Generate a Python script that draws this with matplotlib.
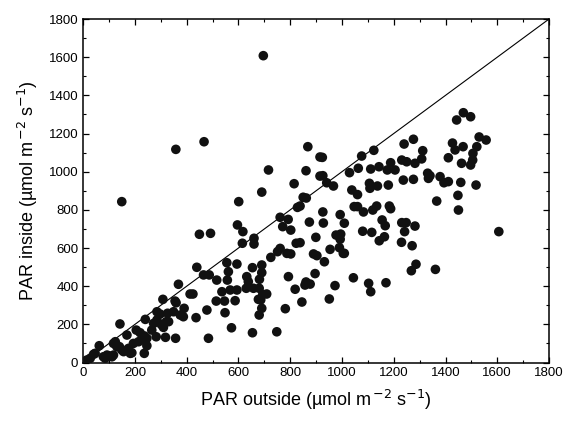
import numpy as np
import matplotlib.pyplot as plt

plt.rcParams['font.family'] = ['Liberation Sans', 'DejaVu Sans']
plt.rcParams['mathtext.default'] = 'regular'

# PAR outside / inside
par_out = [696, 358, 467, 868, 716, 861, 815, 690, 915, 915, 149, 1606,
           1469, 1497, 1443, 1530, 1557, 1427, 1240, 1276, 1312, 1123, 1076, 924,
           1468, 1437, 1411, 1521, 1506, 1505, 1497, 1462, 1231, 1250, 1282, 1308,
           1188, 1175, 1205, 1143, 1111, 1063, 1029, 926, 941, 967, 1331, 1340,
           1334, 1379, 1394, 1411, 1459, 1518, 1237, 1276, 1106, 1137, 1179, 1038,
           1108, 1060, 850, 862, 838, 1047, 1060, 1083, 1119, 1134, 1183, 1188,
           1366, 1448, 1450, 926, 874, 928, 993, 1009, 1155, 1167, 1231, 1248,
           1282, 1242, 1080, 1115, 977, 995, 993, 899, 838, 1144, 1164, 1230,
           1271, 954, 990, 1009, 890, 903, 932, 1286, 1268, 1361, 896, 861,
           877, 857, 1044, 973, 1103, 1111, 1170, 951, 845, 601, 828, 761,
           792, 771, 802, 596, 617, 615, 660, 660, 449, 492, 823, 802,
           761, 751, 725, 787, 793, 819, 781, 748, 654, 573, 484, 548,
           694, 686, 680, 690, 709, 654, 690, 690, 632, 638, 658, 680,
           630, 681, 594, 555, 561, 465, 487, 516, 557, 568, 536, 594,
           677, 587, 546, 514, 439, 424, 368, 355, 390, 387, 349, 436,
           478, 357, 318, 308, 359, 375, 413, 321, 310, 302, 326, 297,
           285, 285, 330, 272, 265, 282, 240, 237, 246, 236, 246, 227,
           220, 205, 214, 194, 188, 182, 175, 169, 142, 140, 156, 149,
           130, 124, 117, 117, 99, 111, 92, 62, 46, 40, 27, 14,
           85, 78, 1005]
par_in = [1608, 1117, 1157, 1131, 1009, 1005, 937, 893, 1077, 977, 843, 686,
          1309, 1288, 1271, 1182, 1166, 1150, 1145, 1170, 1110, 1112, 1082, 1075,
          1131, 1114, 1073, 1131, 1096, 1061, 1035, 1044, 1061, 1052, 1044, 1067,
          1047, 1009, 1009, 1026, 1014, 1018, 995, 979, 942, 925, 992, 979,
          965, 974, 942, 948, 944, 930, 956, 960, 939, 925, 930, 904,
          913, 880, 866, 862, 820, 817, 817, 789, 799, 820, 820, 806,
          846, 876, 799, 789, 736, 731, 775, 730, 747, 717, 733, 733,
          715, 686, 688, 682, 668, 673, 646, 656, 628, 638, 659, 630,
          612, 593, 602, 572, 569, 560, 528, 515, 481, 488, 466, 422,
          411, 406, 444, 403, 415, 371, 418, 333, 317, 843, 813, 761,
          750, 712, 694, 721, 686, 625, 651, 621, 672, 677, 625, 569,
          598, 581, 551, 572, 450, 384, 282, 161, 156, 182, 127, 261,
          357, 328, 249, 284, 359, 497, 511, 471, 450, 424, 389, 389,
          389, 436, 516, 523, 476, 459, 459, 432, 432, 380, 371, 380,
          331, 324, 322, 322, 499, 359, 410, 322, 284, 240, 266, 235,
          275, 127, 132, 331, 313, 249, 359, 214, 184, 199, 258, 254,
          266, 223, 214, 205, 170, 135, 226, 139, 127, 48, 88, 118,
          156, 170, 109, 100, 51, 48, 74, 144, 202, 83, 57, 66,
          83, 109, 100, 39, 35, 30, 39, 88, 48, 43, 22, 13,
          22, 30, 572]

fig = plt.figure(figsize=(5.66, 4.23), dpi=100)
ax = fig.add_axes([0.147, 0.143, 0.823, 0.812])

ax.scatter(par_out, par_in, s=48, color='#111111', edgecolors='none', zorder=3)
ax.plot([0, 1800], [0, 1800], color='black', lw=0.8, zorder=2)

ax.set_xlim(0, 1800)
ax.set_ylim(0, 1800)
ax.set_xticks(np.arange(0, 1801, 200))
ax.set_yticks(np.arange(0, 1801, 200))
ax.set_xticks(np.arange(0, 1801, 100), minor=True)
ax.set_yticks(np.arange(0, 1801, 100), minor=True)
ax.tick_params(which='both', direction='in', top=True, right=True, labelsize=9.5)
ax.tick_params(which='major', length=4, width=0.9)
ax.tick_params(which='minor', length=2.5, width=0.8)
for sp in ax.spines.values():
    sp.set_linewidth(1.1)

ax.set_xlabel('PAR outside (µmol m$^{\\,\\mathrm{-2}}$ s$^{\\mathrm{-1}}$)', fontsize=13, labelpad=6)
ax.set_ylabel('PAR inside (µmol m$^{\\,\\mathrm{-2}}$ s$^{\\mathrm{-1}}$)', fontsize=13, labelpad=6)

fig.savefig('out.png', dpi=100)
